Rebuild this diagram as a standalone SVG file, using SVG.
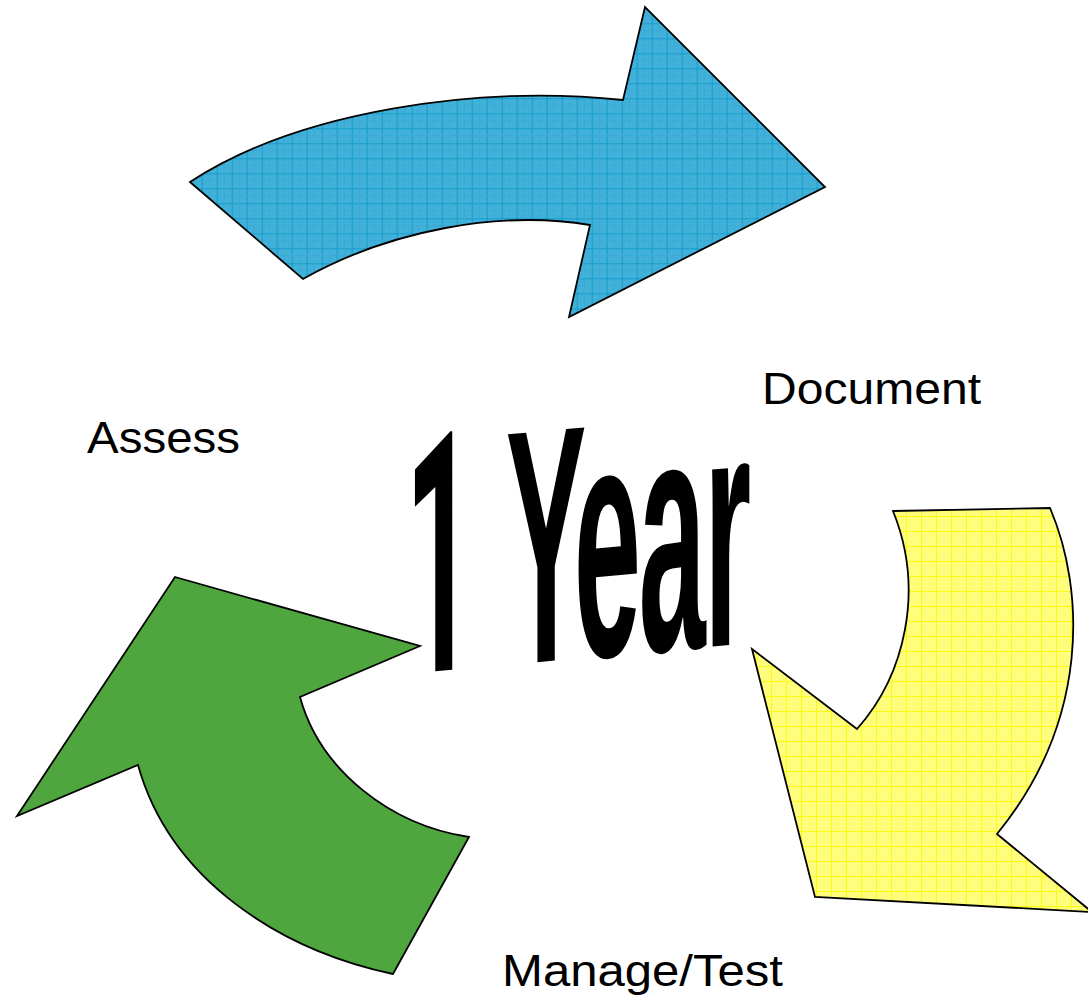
<svg xmlns="http://www.w3.org/2000/svg" width="1088" height="1000" viewBox="0 0 1088 1000">
  <style>
    .lbl { font-family: "Liberation Sans", Arial, sans-serif; font-size: 45px; fill: #000; }
    .title { font-family: "Liberation Sans", Arial, sans-serif; font-weight: bold; font-size: 335px; fill: #000; }
    .one { font-family: Roboto, "Open Sans", sans-serif; font-weight: bold; }
    .arrow { stroke: #000; stroke-width: 1.8; stroke-linejoin: miter; }
  </style>
  <defs>
    <pattern id="gridBlue" patternUnits="userSpaceOnUse" x="6.7" y="8.3" width="15" height="15">
      <rect width="15" height="15" fill="#42b1d9"/>
      <path d="M0.5,0 V15 M0,0.5 H15" stroke="#159bcc" stroke-width="1" fill="none"/>
      <path d="M7.5,0 V15 M0,7.5 H15" stroke="#3aaad6" stroke-width="1" fill="none"/>
    </pattern>
    <pattern id="gridYellow" patternUnits="userSpaceOnUse" x="6" y="6" width="15" height="15">
      <rect width="15" height="15" fill="#fefe7c"/>
      <path d="M0.5,0 V15 M0,0.5 H15" stroke="#fafa12" stroke-width="1" fill="none"/>
    </pattern>
  </defs>
  <rect width="1088" height="1000" fill="#fff"/>

  <g id="connectors">
    <g id="arrow-blue">
      <path class="arrow" fill="url(#gridBlue)" d="M190,182 C300,110 480,85 623,100 L645,7 L825,187 L569,317 L590,225 C500,210 390,230 303,279 Z"/>
    </g>
    <g id="arrow-yellow">
      <path class="arrow" fill="url(#gridYellow)" d="M893,511 L1050,508 C1085,590 1090,720 997,834 L1092,912 L815,897 L752,649 L857,729 C905,675 925,590 893,511 Z"/>
    </g>
    <g id="arrow-green">
      <path class="arrow" fill="#4fa63e" stroke-width="1.5" d="M175,577 L420,646 L300,697 C320,770 390,825 469,837 L393,974 C280,950 170,880 138,765 L17,816 Z"/>
    </g>
  </g>

  <g id="node-title" transform="translate(400,674.4) skewY(-5.1) scale(0.36,1)">
    <text class="title" y="0"><tspan class="one" x="14">1</tspan><tspan x="200 294 483 663 845"> Year</tspan></text>
  </g>

  <g id="node-assess">
    <text class="lbl" x="87" y="453" textLength="153" lengthAdjust="spacingAndGlyphs">Assess</text>
  </g>
  <g id="node-document">
    <text class="lbl" x="762" y="404" textLength="219" lengthAdjust="spacingAndGlyphs">Document</text>
  </g>
  <g id="node-manage">
    <text class="lbl" x="502" y="986" textLength="281" lengthAdjust="spacingAndGlyphs">Manage/Test</text>
  </g>
</svg>
